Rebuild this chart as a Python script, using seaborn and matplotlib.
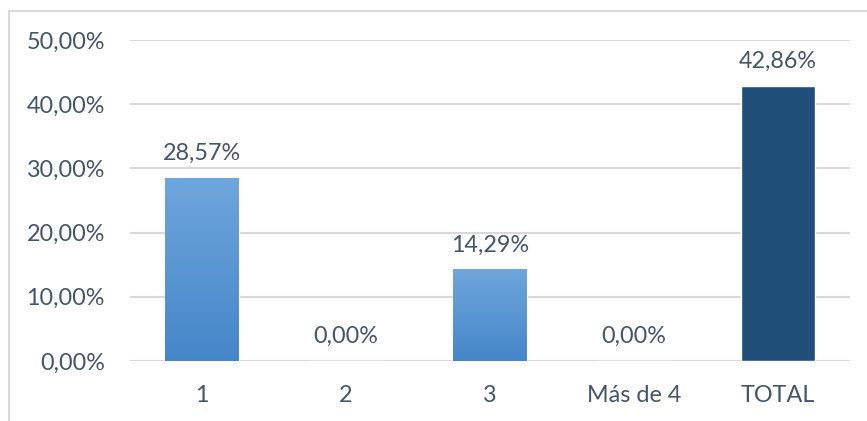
import numpy as np
import pandas as pd
import matplotlib
matplotlib.use("Agg")
import matplotlib.pyplot as plt
import seaborn as sns
from matplotlib.patches import Rectangle
from matplotlib.colors import LinearSegmentedColormap

categories = ["1", "2", "3", "Más de 4", "TOTAL"]
values = [28.57, 0.00, 14.29, 0.00, 42.86]
yticks = [0, 10, 20, 30, 40, 50]

sns.set_theme(style="white")
plt.rcParams['font.family'] = ['Lato', 'DejaVu Sans']

W, H = 867, 421
fig = plt.figure(figsize=(W / 100, H / 100), dpi=100)
ax = fig.add_axes([130 / W, 1 - 361 / H, 720 / W, (361 - 40) / H])

df = pd.DataFrame({"cat": categories, "val": values})
palette = ["#5b9bd5", "#5b9bd5", "#5b9bd5", "#5b9bd5", "#1f4e79"]
sns.barplot(data=df, x="cat", y="val", hue="cat", palette=palette, legend=False,
            width=0.507, ax=ax, zorder=3, saturation=1)

FS = 16.8
ax.set_ylim(0, 50)
ax.set_xlim(-0.5, 4.5)
ax.set_yticks(yticks)
ax.set_yticklabels([f"{t:.2f}%".replace(".", ",") for t in yticks])
ax.yaxis.grid(True, color="#d9d9d9", linewidth=1.5, zorder=0)
ax.set_axisbelow(True)
for s in ax.spines.values():
    s.set_visible(False)
ax.set_xlabel("")
ax.set_ylabel("")
txt = "#44546a"
ax.tick_params(axis="both", length=0, labelsize=FS, colors=txt)
ax.tick_params(axis="y", pad=18)
ax.tick_params(axis="x", pad=17)

cmap = LinearSegmentedColormap.from_list("g", ["#4586c9", "#6fa6dc"])
for i, p in enumerate(ax.patches):
    h = p.get_height()
    x0 = p.get_x()
    w = p.get_width()
    if categories[i] != "TOTAL" and h > 0:
        p.set_facecolor("none")
        grad = np.linspace(0, 1, 256).reshape(-1, 1)
        im = ax.imshow(grad, cmap=cmap, origin="lower", aspect="auto",
                       extent=[x0, x0 + w, 0, h], zorder=3)
        im.set_clip_path(p)
    sh = Rectangle((x0 + 0.012, -0.3), w, h, facecolor="#000000", alpha=0.12,
                   edgecolor="none", zorder=2)
    if h > 0:
        ax.add_patch(sh)
    ax.annotate(f"{values[i]:.2f}%".replace(".", ","), (x0 + w / 2, h),
                xytext=(0, 10), textcoords="offset points", ha="center",
                va="bottom", fontsize=FS, color=txt)

ax.set_xlim(-0.5, 4.5)
ax.set_ylim(0, 50)

border = Rectangle((8.5 / W, -0.1), 1.2, 1 - 10.5 / H + 0.1, transform=fig.transFigure,
                   facecolor="none", edgecolor="#d9d9d9", linewidth=1.5)
fig.patches.append(border)

fig.savefig("out.png", dpi=100, facecolor="white")
